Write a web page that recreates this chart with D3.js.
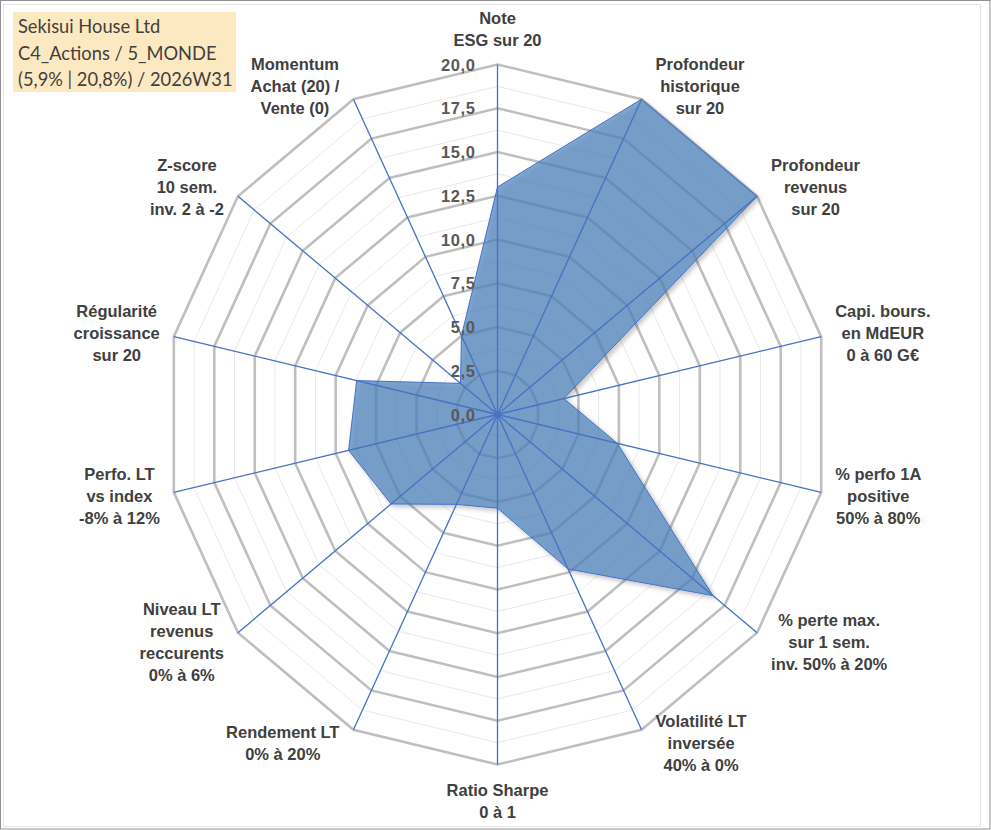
<!DOCTYPE html>
<html>
<head>
<meta charset="utf-8">
<script src="https://cdn.jsdelivr.net/npm/d3@7"></script>
<style>
  html, body { margin: 0; padding: 0; background: #ffffff; }
  svg { display: block; }
</style>
</head>
<body>
<svg id="chart" width="991" height="830"></svg>
<script>
// ---------------- DATA ----------------
const categories = [
  ["Note", "ESG sur 20"],
  ["Profondeur", "historique", "sur 20"],
  ["Profondeur", "revenus", "sur 20"],
  ["Capi. bours.", "en MdEUR", "0 à 60 G€"],
  ["% perfo 1A", "positive", "50% à 80%"],
  ["% perte max.", "sur 1 sem.", "inv. 50% à 20%"],
  ["Volatilité LT", "inversée", "40% à 0%"],
  ["Ratio Sharpe", "0 à 1"],
  ["Rendement LT", "0% à 20%"],
  ["Niveau LT", "revenus", "reccurents", "0% à 6%"],
  ["Perfo. LT", "vs index", "-8% à 12%"],
  ["Régularité", "croissance", "sur 20"],
  ["Z-score", "10 sem.", "inv. 2 à -2"],
  ["Momentum", "Achat (20) /", "Vente (0)"]
];
const values = [13.0, 20.0, 20.0, 4.1, 7.4, 16.6, 9.8, 5.35, 5.7, 8.2, 9.2, 8.7, 2.85, 5.0];
const majorTicks = [0, 2.5, 5, 7.5, 10, 12.5, 15, 17.5, 20];
const minorTicks = [1.25, 3.75, 6.25, 8.75, 11.25, 13.75, 16.25, 18.75];
const titleLines = ["Sekisui House Ltd", "C4_Actions / 5_MONDE", "(5,9% | 20,8%) / 2026W31"];

// ---------------- LAYOUT ----------------
const svg = d3.select("#chart");
const W = 991, H = 830;
const cx = 497.5, cy = 414.5;
const rX = d3.scaleLinear().domain([0, 20]).range([0, 332]);
const rY = d3.scaleLinear().domain([0, 20]).range([0, 350]);
const n = categories.length;
const angle = d3.scaleLinear().domain([0, n]).range([0, 2 * Math.PI]);
const pt = (i, v) => [cx + rX(v) * Math.sin(angle(i)), cy - rY(v) * Math.cos(angle(i))];

// borders
svg.append("rect").attr("x", 0.5).attr("y", 0.5).attr("width", W - 1.5).attr("height", H - 1.5)
  .attr("fill", "#ffffff").attr("stroke", "#8f8f8f").attr("stroke-width", 1);
svg.append("rect").attr("x", 3.5).attr("y", 4.5).attr("width", 977).attr("height", 822)
  .attr("fill", "none").attr("stroke", "#e3e3e3").attr("stroke-width", 1);

// shadow filter
const defs = svg.append("defs");
const f = defs.append("filter").attr("id", "shadow").attr("x", "-20%").attr("y", "-20%").attr("width", "140%").attr("height", "140%");
f.append("feDropShadow").attr("dx", 2.5).attr("dy", 2.5).attr("stdDeviation", 2)
  .attr("flood-color", "#000").attr("flood-opacity", 0.3);

const ringPath = v => d3.line()(d3.range(n).map(i => pt(i, v))) + "Z";

// minor rings
svg.append("g").selectAll("path").data(minorTicks).join("path")
  .attr("d", ringPath).attr("fill", "none").attr("stroke", "#e9e9e9").attr("stroke-width", 1);
// major rings
svg.append("g").selectAll("path").data(majorTicks.filter(v => v > 0)).join("path")
  .attr("d", ringPath).attr("fill", "none").attr("stroke", "#bfbfbf").attr("stroke-width", 2.6)
  .attr("stroke-linejoin", "miter");

// data polygon
svg.append("path")
  .attr("d", d3.line()(values.map((v, i) => pt(i, v))) + "Z")
  .attr("fill", "#4f81bd").attr("fill-opacity", 0.7)
  .attr("stroke", "#4472c4").attr("stroke-width", 1)
  .attr("filter", "url(#shadow)");

// axis spokes
svg.append("g").selectAll("line").data(d3.range(n)).join("line")
  .attr("x1", cx).attr("y1", cy)
  .attr("x2", i => pt(i, 20)[0]).attr("y2", i => pt(i, 20)[1])
  .attr("stroke", "#4472c4").attr("stroke-width", 1.3);
svg.append("circle").attr("cx", cx).attr("cy", cy).attr("r", 2.5).attr("fill", "#4472c4");

// tick labels
const fmt = v => d3.format(".1f")(v).replace(".", ",");
svg.append("g").selectAll("text").data(majorTicks).join("text")
  .attr("x", cx - 22).attr("y", v => cy - rY(v) + 6)
  .attr("text-anchor", "end")
  .attr("font-family", "'Liberation Sans', Arial, sans-serif")
  .attr("font-weight", "bold").attr("font-size", 16.5).attr("letter-spacing", 0.6)
  .attr("fill", "#595959")
  .text(fmt);

// category labels
const LH = 22;
const lg = svg.append("g");
categories.forEach((lines, i) => {
  const a = angle(i), sx = Math.sin(a), sy = -Math.cos(a);
  const [vx, vy] = pt(i, 20);
  const t = lg.append("text")
    .attr("font-family", "'Liberation Sans', Arial, sans-serif")
    .attr("font-weight", "bold").attr("font-size", 16.5)
    .attr("fill", "#404040").attr("text-anchor", "middle");
  const spans = lines.map(l => t.append("tspan").attr("x", 0).text(l));
  const w = d3.max(spans, s => s.node().getComputedTextLength());
  const h = lines.length * LH;
  let mx, my;
  if (Math.abs(sx) < 0.01) {
    mx = vx; my = vy + sy * (h / 2 + 14);
  } else {
    mx = vx + Math.sign(sx) * (w / 2 + 14);
    my = vy + sy * 15;
  }
  spans.forEach((s, k) => {
    s.attr("x", mx).attr("y", my + (k - (lines.length - 1) / 2) * LH + 6);
  });
});

// title box
const tb = svg.append("g");
tb.append("rect").attr("x", 13).attr("y", 12).attr("width", 223).attr("height", 80).attr("fill", "#fde9c1");
tb.selectAll("text").data(titleLines).join("text")
  .attr("x", 18).attr("y", (d, k) => 33 + k * 26.7)
  .attr("font-family", "Lato, 'Open Sans', sans-serif").attr("font-size", 18.3)
  .attr("fill", "#404040").text(d => d);
</script>
</body>
</html>
